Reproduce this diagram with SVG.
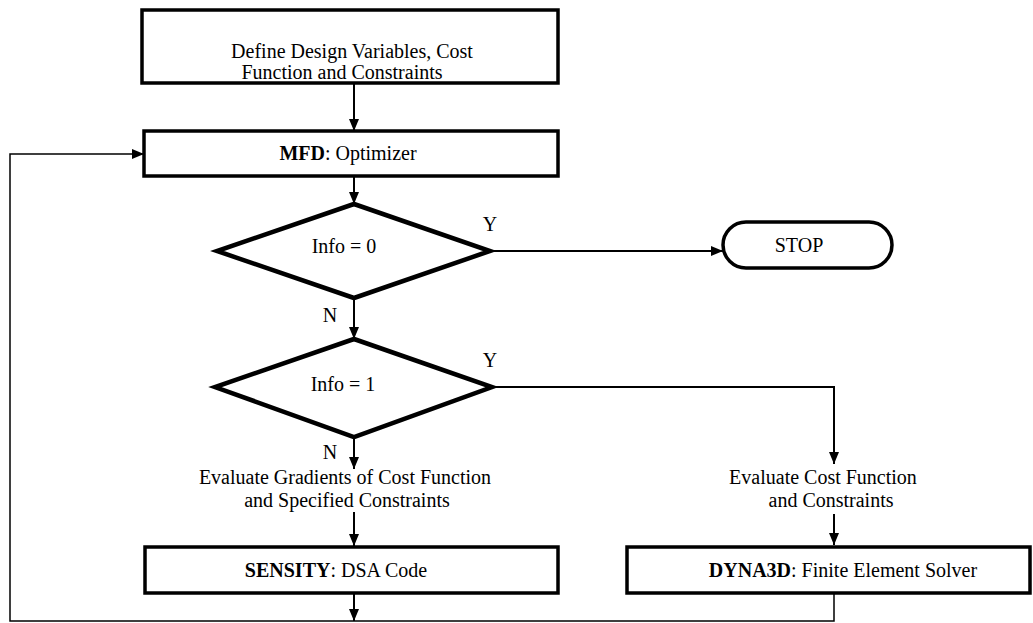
<svg xmlns="http://www.w3.org/2000/svg" width="1033" height="623" viewBox="0 0 1033 623">
<defs>
<style>
.box{fill:#fff;stroke:#000;stroke-width:3.5}
.dia{fill:#fff;stroke:#000;stroke-width:4.5;stroke-linejoin:miter}
.ln{fill:none;stroke:#000;stroke-width:2}
.thin{fill:none;stroke:#000;stroke-width:1.5}
text{font-family:"Liberation Serif","Times New Roman",serif;font-size:20px;fill:#000;text-anchor:middle}
.b{font-weight:bold}
</style>
<marker id="ah" viewBox="0 0 12 12" refX="12" refY="6" markerWidth="12" markerHeight="12" markerUnits="userSpaceOnUse" orient="auto">
<path d="M0,1 L12,6 L0,11 Z" fill="#000"/>
</marker>
</defs>
<rect width="1033" height="623" fill="#fff"/>
<g id="connectors">
<line class="ln" x1="354" y1="83" x2="354" y2="131" marker-end="url(#ah)"/>
<line class="ln" x1="354" y1="176" x2="354" y2="204" marker-end="url(#ah)"/>
<line class="ln" x1="490" y1="251" x2="723" y2="251" marker-end="url(#ah)"/>
<line class="ln" x1="354" y1="298" x2="354" y2="339" marker-end="url(#ah)"/>
<polyline class="ln" points="492,387 834,387 834,464" marker-end="url(#ah)"/>
<line class="ln" x1="354" y1="437" x2="354" y2="469" marker-end="url(#ah)"/>
<line class="ln" x1="354" y1="512" x2="354" y2="546" marker-end="url(#ah)"/>
<line class="ln" x1="834" y1="514" x2="834" y2="545" marker-end="url(#ah)"/>
<line class="ln" x1="354" y1="593" x2="354" y2="621" marker-end="url(#ah)"/>
<polyline class="thin" points="834,593 834,621 10,621 10,154 144,154" marker-end="url(#ah)"/>
</g>
<g id="define">
<rect class="box" x="142" y="10" width="416" height="73"/>
<text x="352" y="58">Define Design Variables, Cost</text>
<text x="342" y="79">Function and Constraints</text>
</g>
<g id="mfd">
<rect class="box" x="144" y="131" width="414" height="45"/>
<text x="348" y="160"><tspan class="b">MFD</tspan>: Optimizer</text>
</g>
<g id="info0">
<polygon class="dia" points="354,204 490,251 354,298 217,251"/>
<text x="344" y="253">Info = 0</text>
<text x="490" y="231">Y</text>
<text x="330" y="322">N</text>
</g>
<g id="stop">
<rect class="box" x="723" y="222" width="169" height="46" rx="23"/>
<text x="799" y="252">STOP</text>
</g>
<g id="info1">
<polygon class="dia" points="354,339 492,387 354,437 215,387"/>
<text x="343" y="391">Info = 1</text>
<text x="490" y="367">Y</text>
<text x="330" y="459">N</text>
</g>
<g id="gradients">
<text x="345" y="484">Evaluate Gradients of Cost Function</text>
<text x="347" y="507">and Specified Constraints</text>
</g>
<g id="evalcost">
<text x="823" y="484">Evaluate Cost Function</text>
<text x="831" y="507">and Constraints</text>
</g>
<g id="sensity">
<rect class="box" x="145" y="547" width="413" height="46"/>
<text x="336" y="577"><tspan class="b">SENSITY</tspan>: DSA Code</text>
</g>
<g id="dyna3d">
<rect class="box" x="627" y="547" width="403" height="46"/>
<text x="843" y="577"><tspan class="b">DYNA3D</tspan>: Finite Element Solver</text>
</g>
</svg>
